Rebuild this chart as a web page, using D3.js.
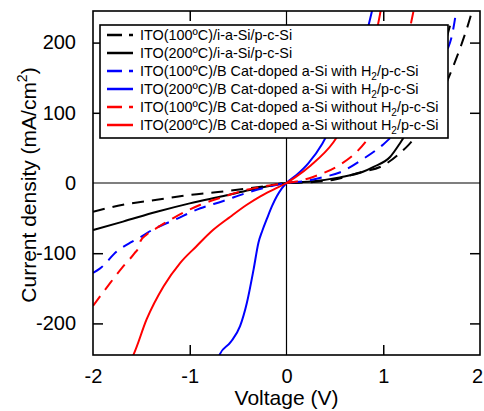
<!DOCTYPE html>
<html>
<head>
<meta charset="utf-8">
<script src="https://cdn.jsdelivr.net/npm/d3@7"></script>
<style>
  body { margin: 0; background: #fff; }
  text { font-family: Arial, "Liberation Sans", sans-serif; fill: #000; }
</style>
</head>
<body>
<svg width="484" height="411"></svg>
<script>
// J-V data: [voltage (V), current density (mA/cm2)]
const ito100Intrinsic = [
  [-2, -41], [-1.69, -31], [-1.34, -24], [-1, -17], [-0.65, -12], [-0.38, -7.5],
  [-0.15, -3], [0, 0], [0.25, 1], [0.5, 5], [0.76, 15], [1.0, 25], [1.15, 40],
  [1.26, 54], [1.4, 78], [1.55, 112], [1.72, 165], [1.81, 198], [1.91, 241], [1.95, 262]
];
const ito200Intrinsic = [
  [-2, -67], [-1.69, -55], [-1.34, -41], [-1, -29], [-0.65, -18.5], [-0.38, -10],
  [-0.15, -3.5], [0, 0], [0.25, 2], [0.55, 8], [0.79, 16], [0.9, 23], [1.07, 37],
  [1.17, 56], [1.3, 85], [1.4, 110], [1.5, 140], [1.6, 180], [1.69, 224]
];
const ito100WithH2 = [
  [-2, -128], [-1.93, -122], [-1.75, -97], [-1.6, -84], [-1.52, -78], [-1.39, -67],
  [-1.15, -52], [-0.89, -36], [-0.66, -26], [-0.41, -14], [-0.2, -6], [0, 0],
  [0.2, 3], [0.4, 9], [0.55, 15], [0.79, 34], [1.0, 55], [1.2, 82], [1.4, 112],
  [1.55, 148], [1.65, 185], [1.71, 210], [1.76, 250]
];
const ito200WithH2 = [
  [-0.7, -252], [-0.69, -244], [-0.58, -227], [-0.48, -204], [-0.41, -171],
  [-0.34, -123], [-0.29, -85], [-0.25, -68], [-0.2, -50], [-0.15, -33],
  [-0.1, -19], [-0.05, -8], [0, 0], [0.1, 11], [0.225, 28], [0.37, 56], [0.5, 92],
  [0.6, 125], [0.7, 160], [0.8, 200], [0.88, 243], [0.9, 255]
];
const ito100WithoutH2 = [
  [-2, -175], [-1.82, -142], [-1.69, -119], [-1.57, -100], [-1.53, -92], [-1.51, -83],
  [-1.45, -74], [-1.34, -64], [-1.17, -50], [-0.89, -31], [-0.66, -20], [-0.45, -11],
  [-0.2, -4], [0, 0], [0.1, 2], [0.28, 9], [0.54, 25], [0.73, 45], [0.9, 75],
  [1.0, 100], [1.1, 133], [1.2, 175], [1.31, 243], [1.35, 270]
];
const ito200WithoutH2 = [
  [-1.62, -255], [-1.58, -244], [-1.445, -194], [-1.27, -147], [-1.1, -114],
  [-0.93, -90], [-0.76, -67], [-0.58, -48], [-0.41, -31], [-0.27, -19],
  [-0.13, -9], [0, 0], [0.1, 9], [0.25, 25], [0.485, 58], [0.6, 83], [0.7, 110],
  [0.8, 145], [0.9, 195], [0.97, 243], [1.0, 265]
];

const seriesNames = [
  ["ITO(100ºC)/i-a-Si/p-c-Si", ""],
  ["ITO(200ºC)/i-a-Si/p-c-Si", ""],
  ["ITO(100ºC)/B Cat-doped a-Si with H", "/p-c-Si"],
  ["ITO(200ºC)/B Cat-doped a-Si with H", "/p-c-Si"],
  ["ITO(100ºC)/B Cat-doped a-Si without H", "/p-c-Si"],
  ["ITO(200ºC)/B Cat-doped a-Si without H", "/p-c-Si"]
];
const seriesData = [
  ito100Intrinsic, ito200Intrinsic, ito100WithH2,
  ito200WithH2, ito100WithoutH2, ito200WithoutH2
];
const seriesColors = ["#000", "#000", "#0000ff", "#0000ff", "#ff0000", "#ff0000"];
const seriesDashed = [true, false, true, false, true, false];

const xTicks = [-2, -1, 0, 1, 2];
const yTicks = [-200, -100, 0, 100, 200];

const svg = d3.select("svg");
const margin = { top: 11, right: 4, bottom: 56, left: 93 };
const width = +svg.attr("width");
const height = +svg.attr("height");
const innerWidth = width - margin.left - margin.right;
const innerHeight = height - margin.top - margin.bottom;

const xScale = d3.scaleLinear().domain([-2, 2]).range([0, innerWidth]);
const yScale = d3.scaleLinear().domain([-245, 245]).range([innerHeight, 0]);

const g = svg.append("g")
  .attr("transform", `translate(${margin.left},${margin.top})`);

g.append("clipPath").attr("id", "plot-clip")
  .append("rect").attr("width", innerWidth).attr("height", innerHeight);

// zero lines
g.append("line")
  .attr("x1", 0).attr("x2", innerWidth)
  .attr("y1", yScale(0)).attr("y2", yScale(0))
  .attr("stroke", "#000").attr("stroke-width", 1.2);
g.append("line")
  .attr("x1", xScale(0)).attr("x2", xScale(0))
  .attr("y1", 0).attr("y2", innerHeight)
  .attr("stroke", "#000").attr("stroke-width", 1.2);

// curves
const line = d3.line()
  .x((d) => xScale(d[0]))
  .y((d) => yScale(d[1]))
  .curve(d3.curveMonotoneX);

const curves = g.append("g").attr("clip-path", "url(#plot-clip)");
seriesData.forEach((data, i) => {
  curves.append("path")
    .datum(data)
    .attr("d", line)
    .attr("fill", "none")
    .attr("stroke", seriesColors[i])
    .attr("stroke-width", 2)
    .attr("stroke-dasharray", seriesDashed[i] ? "12,8" : null);
});

// axes with inward ticks, mirrored on all sides
const tickFmt = (d) => (d < 0 ? "-" + Math.abs(d) : d);

const xAxisG = g.append("g")
  .attr("transform", `translate(0,${innerHeight})`)
  .call(d3.axisBottom(xScale).tickValues(xTicks).tickSize(-10).tickPadding(22).tickFormat(tickFmt));
g.append("g")
  .call(d3.axisLeft(yScale).tickValues(yTicks).tickSize(-10).tickPadding(17).tickFormat(tickFmt));
const topAxisG = g.append("g")
  .call(d3.axisTop(xScale).tickValues(xTicks).tickSize(-10));
const rightAxisG = g.append("g")
  .attr("transform", `translate(${innerWidth},0)`)
  .call(d3.axisRight(yScale).tickValues(yTicks).tickSize(-10));
topAxisG.selectAll("text").remove();
rightAxisG.selectAll("text").remove();

g.selectAll(".domain").remove();
g.selectAll(".tick line").attr("stroke", "#000").attr("stroke-width", 1.5);
g.selectAll(".tick").filter((d) => d === 0 || d === -2 || d === 2).select("line").remove();
g.selectAll(".tick text").style("font-size", "20px").attr("fill", "#000");
xAxisG.selectAll(".tick text").attr("dy", "0.32em");
// last x label sits on the window edge; nudge it in a little
xAxisG.selectAll(".tick text").filter((d) => d === 2).attr("dx", -3);

// frame
g.append("rect")
  .attr("width", innerWidth).attr("height", innerHeight)
  .attr("fill", "none").attr("stroke", "#000").attr("stroke-width", 1.6);

// axis labels
svg.append("text")
  .attr("x", margin.left + xScale(0))
  .attr("y", 405)
  .attr("text-anchor", "middle")
  .style("font-size", "21px")
  .text("Voltage (V)");

const yLabel = svg.append("text")
  .attr("transform", `translate(36,${margin.top + innerHeight / 2 + 2}) rotate(-90)`)
  .attr("text-anchor", "middle")
  .style("font-size", "21px");
yLabel.append("tspan").text("Current density (mA/cm");
yLabel.append("tspan").attr("dy", -9).style("font-size", "14px").text("2");
yLabel.append("tspan").attr("dy", 9).text(")");

// legend
const legend = svg.append("g").attr("transform", "translate(100,25)");
legend.append("rect")
  .attr("width", 348).attr("height", 113)
  .attr("fill", "#fff").attr("stroke", "#000").attr("stroke-width", 1.6);

seriesNames.forEach((name, i) => {
  const row = legend.append("g").attr("transform", `translate(0,${10 + i * 18})`);
  row.append("line")
    .attr("x1", 7).attr("x2", 33)
    .attr("stroke", seriesColors[i]).attr("stroke-width", 2.5)
    .attr("stroke-dasharray", seriesDashed[i] ? "15,7" : null);
  const label = row.append("text")
    .attr("x", 40).attr("dy", "0.36em")
    .style("font-size", "14.4px");
  label.append("tspan").text(name[0]);
  if (name[1]) {
    label.append("tspan").attr("dy", 4).style("font-size", "10px").text("2");
    label.append("tspan").attr("dy", -4).text(name[1]);
  }
});
</script>
</body>
</html>
